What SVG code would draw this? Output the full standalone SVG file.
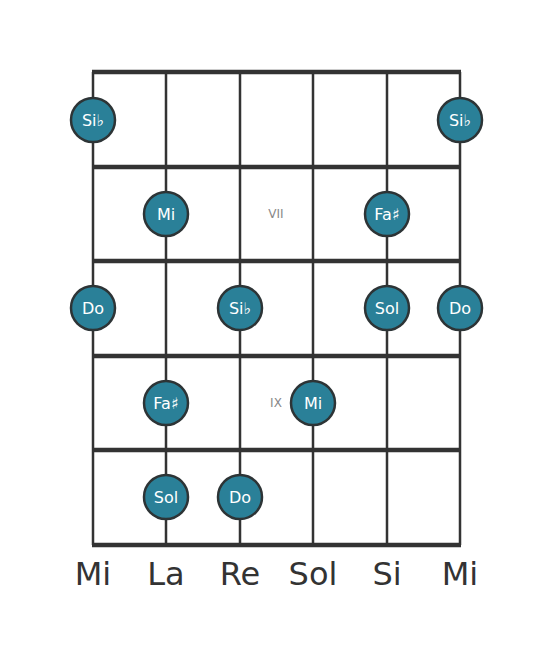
<svg xmlns="http://www.w3.org/2000/svg" width="553" height="656" viewBox="0 0 553 656">
<style>
.fret{stroke:#333;stroke-width:4.5}
.str{stroke:#333;stroke-width:2.5}
.note circle{fill:#2a8098;stroke:#2d3436;stroke-width:2.5}
.note text{fill:#fff;font-family:"DejaVu Sans",sans-serif;font-size:16px;text-anchor:middle;dominant-baseline:central}
.fl{fill:#888;font-family:"DejaVu Sans",sans-serif;font-size:12px;text-anchor:middle;dominant-baseline:central}
.sn{fill:#333;font-family:"DejaVu Sans",sans-serif;font-size:32px;text-anchor:middle}
</style>
<rect width="553" height="656" fill="#fff"/>
<g id="connectors">
<line class="str" x1="93" y1="72" x2="93" y2="545"/>
<line class="str" x1="166" y1="72" x2="166" y2="545"/>
<line class="str" x1="240" y1="72" x2="240" y2="545"/>
<line class="str" x1="313" y1="72" x2="313" y2="545"/>
<line class="str" x1="387" y1="72" x2="387" y2="545"/>
<line class="str" x1="460" y1="72" x2="460" y2="545"/>
<line class="fret" x1="92" y1="72" x2="461" y2="72"/>
<line class="fret" x1="92" y1="167" x2="461" y2="167"/>
<line class="fret" x1="92" y1="261" x2="461" y2="261"/>
<line class="fret" x1="92" y1="356" x2="461" y2="356"/>
<line class="fret" x1="92" y1="450" x2="461" y2="450"/>
<line class="fret" x1="92" y1="545" x2="461" y2="545"/>
</g>
<g id="fret-labels">
<text class="fl" x="276" y="214">VII</text>
<text class="fl" x="276" y="403">IX</text>
</g>
<g id="n1" class="note"><circle cx="93" cy="120" r="22"/><text x="93" y="120">Si♭</text></g>
<g id="n2" class="note"><circle cx="460" cy="120" r="22"/><text x="460" y="120">Si♭</text></g>
<g id="n3" class="note"><circle cx="166" cy="214" r="22"/><text x="166" y="214">Mi</text></g>
<g id="n4" class="note"><circle cx="387" cy="214" r="22"/><text x="387" y="214">Fa♯</text></g>
<g id="n5" class="note"><circle cx="93" cy="308" r="22"/><text x="93" y="308">Do</text></g>
<g id="n6" class="note"><circle cx="240" cy="308" r="22"/><text x="240" y="308">Si♭</text></g>
<g id="n7" class="note"><circle cx="387" cy="308" r="22"/><text x="387" y="308">Sol</text></g>
<g id="n8" class="note"><circle cx="460" cy="308" r="22"/><text x="460" y="308">Do</text></g>
<g id="n9" class="note"><circle cx="166" cy="403" r="22"/><text x="166" y="403">Fa♯</text></g>
<g id="n10" class="note"><circle cx="313" cy="403" r="22"/><text x="313" y="403">Mi</text></g>
<g id="n11" class="note"><circle cx="166" cy="497" r="22"/><text x="166" y="497">Sol</text></g>
<g id="n12" class="note"><circle cx="240" cy="497" r="22"/><text x="240" y="497">Do</text></g>
<g id="string-names">
<text class="sn" x="93" y="585">Mi</text>
<text class="sn" x="166" y="585">La</text>
<text class="sn" x="240" y="585">Re</text>
<text class="sn" x="313" y="585">Sol</text>
<text class="sn" x="387" y="585">Si</text>
<text class="sn" x="460" y="585">Mi</text>
</g>
</svg>
